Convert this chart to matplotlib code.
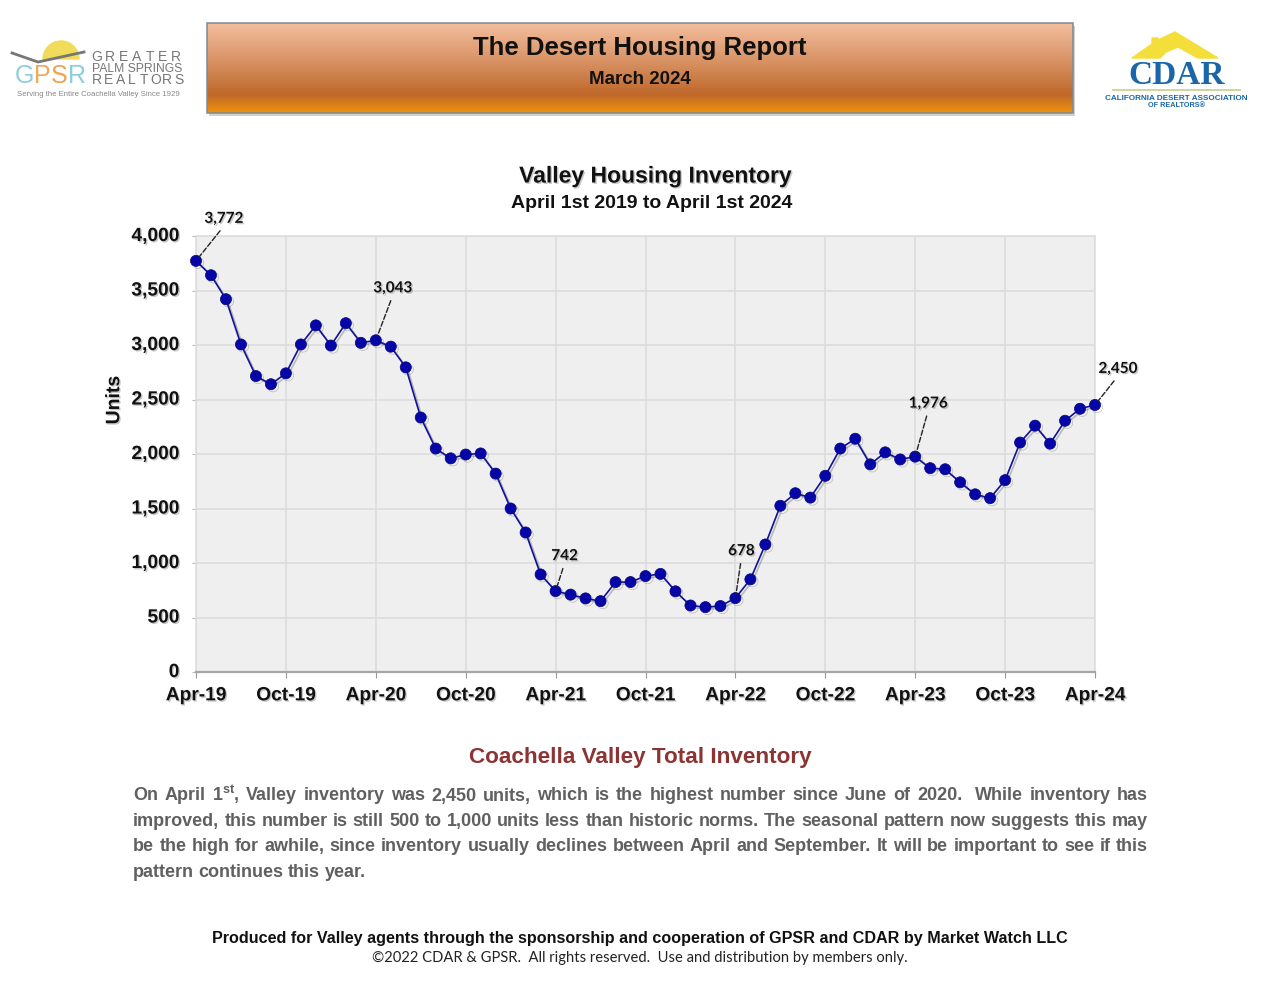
import matplotlib
matplotlib.use('Agg')
import matplotlib.pyplot as plt
import matplotlib.patheffects as pe
import numpy as np
from matplotlib.colors import LinearSegmentedColormap
from matplotlib.patches import Polygon, Rectangle, Wedge
from matplotlib.transforms import ScaledTranslation

plt.rcParams['font.family'] = ['Liberation Sans', 'DejaVu Sans']
plt.rcParams['mathtext.fontset'] = 'custom'
plt.rcParams['mathtext.bf'] = 'Liberation Sans:bold'
plt.rcParams['mathtext.rm'] = 'Liberation Sans:bold'

# monthly inventory, Apr-19 to Apr-24
inventory = [3772, 3640, 3420, 3005, 2715, 2640, 2740, 3005, 3180, 2995, 3200, 3020,
             3043, 2985, 2795, 2335, 2050, 1960, 1995, 2005, 1820, 1500, 1280, 895,
             742, 710, 675, 650, 825, 825, 880, 900, 740, 610, 595, 605,
             678, 850, 1170, 1525, 1640, 1600, 1800, 2050, 2140, 1905, 2015, 1950,
             1976, 1870, 1860, 1740, 1630, 1595, 1760, 2105, 2260, 2095, 2305, 2415,
             2450]
x_labels = ['Apr-19', 'Oct-19', 'Apr-20', 'Oct-20', 'Apr-21', 'Oct-21', 'Apr-22',
            'Oct-22', 'Apr-23', 'Oct-23', 'Apr-24']
y_ticks = [0, 500, 1000, 1500, 2000, 2500, 3000, 3500, 4000]
labelled_months = [0, 12, 24, 36, 48, 60]
label_offsets = [(28, 35), (17, 45), (9, 28), (6, 40), (13, 46), (23, 29)]

body_lines = [
    'On April 1$^{\\mathbf{st}}$, Valley inventory was 2,450 units, which is the highest number since June of 2020.  While inventory has',
    'improved, this number is still 500 to 1,000 units less than historic norms. The seasonal pattern now suggests this may',
    'be the high for awhile, since inventory usually declines between April and September. It will be important to see if this',
    'pattern continues this year.',
]

W, H = 1280, 989
fig = plt.figure(figsize=(W / 100, H / 100), dpi=100, facecolor='white')

# page overlay in pixel coordinates
page = fig.add_axes([0, 0, 1, 1])
page.axis('off')


def spaced(text, x0, x1, y, size, color):
    # spread the letters of a word evenly between two x positions
    xs = np.linspace(x0, x1, len(text))
    for letter, lx in zip(text, xs):
        page.text(lx, y, letter, fontsize=size, color=color, ha='center', va='center')


# banner
page.add_patch(Rectangle((209, 26), 866, 90, color='#8a8a8a', alpha=0.4, lw=0, zorder=1))
banner_cmap = LinearSegmentedColormap.from_list(
    'banner', [(0, '#F3BE9E'), (0.45, '#D68F60'), (0.8, '#BF682A'), (1, '#F0920C')])
page.imshow(np.linspace(0, 1, 200).reshape(-1, 1), cmap=banner_cmap, aspect='auto',
            extent=(207, 1073, 113, 23), zorder=2)
page.add_patch(Rectangle((207, 23), 866, 90, fill=False, ec='#7A8A9A', lw=1.1, zorder=3))
page.set_xlim(0, W)
page.set_ylim(H, 0)
page.text(640, 48.5, 'The Desert Housing Report', ha='center', va='center', fontsize=18.5,
          fontweight='bold', color='#111111', zorder=4)
page.text(640, 79.5, 'March 2024', ha='center', va='center', fontsize=13.5,
          fontweight='bold', color='#111111', zorder=4)

# GPSR logo
page.add_patch(Wedge((61, 59), 18, 180, 360, color='#F0DC5A', zorder=1))
page.plot([12, 38, 84], [53, 62, 52], color='#777777', lw=2, zorder=2)
for letter, lx, col in zip('GPSR', [15, 34.5, 51, 67.5],
                           ['#8CCDE0', '#F0A85A', '#F0A24E', '#8CCDE0']):
    page.text(lx, 76, letter, fontsize=18, color=col, va='center')
spaced('GREATER', 97, 176, 57, 10, '#777777')
page.text(92, 68.5, 'PALM SPRINGS', fontsize=8.7, color='#777777', va='center')
spaced('REALTORS', 97, 179, 79.5, 10, '#777777')
page.text(98, 95, 'Serving the Entire Coachella Valley Since 1929', fontsize=5.6,
          color='#888888', va='center', ha='center')

# CDAR logo
page.add_patch(Polygon([[1132, 58], [1152, 44], [1152, 38], [1158, 38], [1158, 40],
                        [1175, 32], [1218, 58], [1198, 58], [1178, 47], [1166, 52],
                        [1160, 58]], color='#F4DF3A', zorder=1))
page.text(1177, 75.5, 'CDAR', fontsize=24, color='#1B66A8', fontweight='bold', ha='center',
          va='center', family='Liberation Serif')
page.plot([1113, 1240], [90, 90], color='#C4D08C', lw=1.2)
page.text(1176, 98.5, 'CALIFORNIA DESERT ASSOCIATION', fontsize=5.85, color='#1B66A8',
          fontweight='bold', ha='center', va='center')
page.text(1176, 105.5, 'OF REALTORS®', fontsize=5.2, color='#1B66A8', fontweight='bold',
          ha='center', va='center')

# chart titles
text_shadow = [pe.withSimplePatchShadow(offset=(1, -1), shadow_rgbFace='#777777', alpha=0.4)]
page.text(655, 176, 'Valley Housing Inventory', ha='center', va='center', fontsize=16.5,
          fontweight='bold', color='#111111', path_effects=text_shadow)
page.text(652, 203, 'April 1st 2019 to April 1st 2024', ha='center', va='center', fontsize=14,
          fontweight='bold', color='#111111')

# chart
ax = fig.add_axes([196 / W, 1 - 672 / H, (1095 - 196) / W, (672 - 236) / H])
ax.set_facecolor('#EFEFEF')
months = np.arange(len(inventory))
ax.plot(months, inventory, color='#10109A', lw=1.2, marker='o', ms=8,
        mfc='#0505A8', mec='#07077A', mew=0.5, clip_on=False, zorder=5,
        path_effects=[pe.SimpleLineShadow(offset=(1.5, -1.5), shadow_color='#555555', alpha=0.35),
                      pe.Normal()])
ax.set_xlim(0, 60)
ax.set_ylim(0, 4000)
ax.set_xticks(np.arange(0, 61, 6))
ax.set_xticklabels(x_labels)
ax.set_yticks(y_ticks)
ax.set_yticklabels(['{:,}'.format(v) for v in y_ticks])
ax.grid(True, color='#DCDCDC', lw=1.2)
ax.set_axisbelow(True)
for side in ['top', 'left', 'right']:
    ax.spines[side].set_color('#DCDCDC')
    ax.spines[side].set_linewidth(1.1)
ax.spines['bottom'].set_color('#A6A6A6')
ax.spines['bottom'].set_linewidth(1.6)
ax.tick_params(axis='x', length=4, color='#999999', pad=7)
ax.tick_params(axis='y', length=3, color='#BBBBBB', pad=9)
for tick in ax.get_xticklabels() + ax.get_yticklabels():
    tick.set_fontsize(13.8)
    tick.set_fontweight('bold')
    tick.set_color('#111111')
    tick.set_path_effects(text_shadow)
# y labels sit a little above their gridlines
for tick in ax.get_yticklabels():
    tick.set_transform(tick.get_transform() + ScaledTranslation(0, 0.015, fig.dpi_scale_trans))
ax.set_ylabel('Units', fontsize=14, fontweight='bold', color='#111111',
              path_effects=text_shadow)
ax.yaxis.set_label_coords(-0.081, 0.624)

for month, offset in zip(labelled_months, label_offsets):
    ax.annotate('{:,}'.format(inventory[month]), (month, inventory[month]), xytext=offset,
                textcoords='offset pixels', ha='center', va='bottom', fontsize=11,
                fontweight='bold', family='Lato', color='#111111', annotation_clip=False,
                path_effects=text_shadow, zorder=6,
                arrowprops=dict(arrowstyle='-', ls='--', lw=1, color='#222222',
                                relpos=(0.5, 0), shrinkA=2, shrinkB=3))

# body text, justified by hand
page.text(640, 758, 'Coachella Valley Total Inventory', ha='center', va='center', fontsize=16.2,
          fontweight='bold', color='#8C3333')
renderer = fig.canvas.get_renderer()
left, right = 133, 1148
for i, line in enumerate(body_lines):
    y = 800.5 + i * 25.4
    words = line.split(' ')
    items = [page.text(0, y, w, fontsize=13, fontweight='bold', color='#606060', va='baseline')
             for w in words]
    widths = [t.get_window_extent(renderer).width for t in items]
    if i < len(body_lines) - 1:
        gap = (right - left - sum(widths)) / (len(words) - 1)
    else:
        gap = 4.6
    cur = left
    for t, w in zip(items, widths):
        t.set_x(cur)
        cur += w + gap

page.text(640, 938, 'Produced for Valley agents through the sponsorship and cooperation of GPSR and CDAR by Market Watch LLC',
          ha='center', va='center', fontsize=11.6, fontweight='bold', color='#111111')
page.text(640, 958, '©2022 CDAR & GPSR.  All rights reserved.  Use and distribution by members only.',
          ha='center', va='center', fontsize=10.65, family='Lato', color='#222222')

fig.savefig('out.png', dpi=100, facecolor='white')
